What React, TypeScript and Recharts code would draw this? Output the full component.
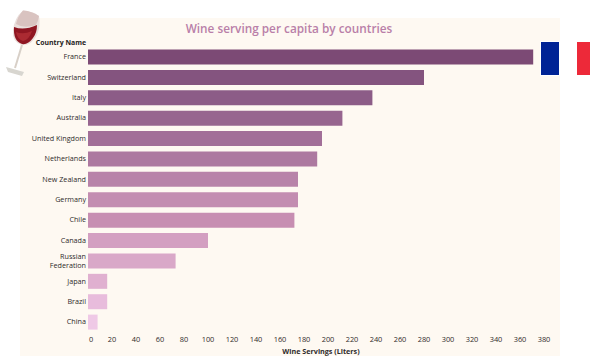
import React from "react";
import { BarChart, Bar, XAxis, YAxis, Cell } from "recharts";

const countries = [
  "France",
  "Switzerland",
  "Italy",
  "Australia",
  "United Kingdom",
  "Netherlands",
  "New Zealand",
  "Germany",
  "Chile",
  "Canada",
  "Russian Federation",
  "Japan",
  "Brazil",
  "China",
];
const servings = [371, 280, 237, 212, 195, 191, 175, 175, 172, 100, 73, 16, 16, 8];
const barColors = [
  "#7c4a75",
  "#84547f",
  "#8c5c87",
  "#97658f",
  "#a26f98",
  "#ad79a0",
  "#b883a9",
  "#c38db1",
  "#c78eb2",
  "#d39fc1",
  "#d9a8c8",
  "#e0b0d0",
  "#e8bcdc",
  "#efc9e6",
];
const xTicks = [0, 20, 40, 60, 80, 100, 120, 140, 160, 180, 200, 220, 240, 260, 280, 300, 320, 340, 360, 380];

const data = countries.map((name, i) => ({ name, value: servings[i] }));

const FONT = "'Open Sans', sans-serif";
const INK = "#2e2b2b";

function CountryTick({ x, y, payload }: any) {
  const label: string = payload.value;
  const lines = label === "Russian Federation" ? label.split(" ") : [label];
  return (
    <text x={x} y={y} textAnchor="end" fontFamily={FONT} fontSize={7.2} fontWeight={500} fill={INK}>
      {lines.map((line, i) => (
        <tspan key={line} x={x} y={y + 2.5 + (i - (lines.length - 1) / 2) * 9}>
          {line}
        </tspan>
      ))}
    </text>
  );
}

// the zero label sits a little right of its tick
function ValueTick({ x, y, payload }: any) {
  return (
    <text
      x={payload.value === 0 ? x + 3 : x}
      y={y + 2}
      textAnchor="middle"
      fontFamily={FONT}
      fontSize={7.4}
      fontWeight={500}
      fill={INK}
    >
      {payload.value}
    </text>
  );
}

function WineGlass() {
  return (
    <svg width={44} height={80} style={{ position: "absolute", left: 0, top: 0 }}>
      <path d="M23 10.5 Q32 11 39 16 Q41 26 37 35 Q31 46 22 45 Q12 42 13 31 Q14 18 23 10.5 Z" fill="#eadfdc" />
      <path d="M23 10.5 Q32 11 39 16 Q38 22 36 25 Q24 29 16 24 Q18 16 23 10.5 Z" fill="#d9c3c0" />
      <path d="M14 27 Q24 31 37 25 Q37 33 33 38 Q28 45 22 44 Q13 41 14 27 Z" fill="#8f1622" />
      <path d="M16 32 Q23 35 32 31 Q29 40 23 41 Q17 39 16 32 Z" fill="#ab2a32" />
      <path d="M22 45 L15 68" stroke="#d8d0c8" strokeWidth={2} />
      <path d="M6 67 L24 72 L22 76 L8 72 Z" fill="#d8d6d0" />
    </svg>
  );
}

function FrenchFlag() {
  return (
    <div style={{ position: "absolute", left: 540, top: 41, width: 50, height: 35, background: "#ffffff" }}>
      <div style={{ position: "absolute", left: 1, top: 1, width: 18, height: 33, background: "#002395" }} />
      <div style={{ position: "absolute", left: 37, top: 1, width: 13, height: 33, background: "#ed2939" }} />
    </div>
  );
}

export default function App() {
  return (
    <div style={{ position: "absolute", left: 0, top: 0, width: 590, height: 356, overflow: "hidden", background: "#ffffff" }}>
      <div style={{ position: "absolute", left: 20, top: 18, width: 540, height: 338, background: "#fef9f2" }} />
      <WineGlass />
      <div style={{ position: "absolute", left: 0, top: 0 }}>
        <BarChart
          width={590}
          height={356}
          data={data}
          layout="vertical"
          margin={{ top: 46.5, right: 46, left: 0, bottom: 0 }}
        >
          <text x={289} y={33} textAnchor="middle" fontFamily={FONT} fontSize={11.8} fontWeight={600} fill="#b97fa8">
            Wine serving per capita by countries
          </text>
          <text x={86} y={45} textAnchor="end" fontFamily={FONT} fontSize={6.9} fontWeight={700} fill="#1f1c1c">
            Country Name
          </text>
          <text x={321} y={354} textAnchor="middle" fontFamily={FONT} fontSize={7.2} fontWeight={700} fill={INK}>
            Wine Servings (Liters)
          </text>
          <XAxis
            type="number"
            domain={[0, 380]}
            ticks={xTicks}
            interval={0}
            height={24}
            axisLine={false}
            tickLine={false}
            tick={<ValueTick />}
          />
          <YAxis
            type="category"
            dataKey="name"
            width={88}
            interval={0}
            axisLine={false}
            tickLine={false}
            tickMargin={2}
            tickSize={0}
            tick={<CountryTick />}
          />
          <Bar dataKey="value" barSize={15} isAnimationActive={false}>
            {data.map((d, i) => (
              <Cell key={d.name} fill={barColors[i]} />
            ))}
          </Bar>
        </BarChart>
      </div>
      <FrenchFlag />
    </div>
  );
}
